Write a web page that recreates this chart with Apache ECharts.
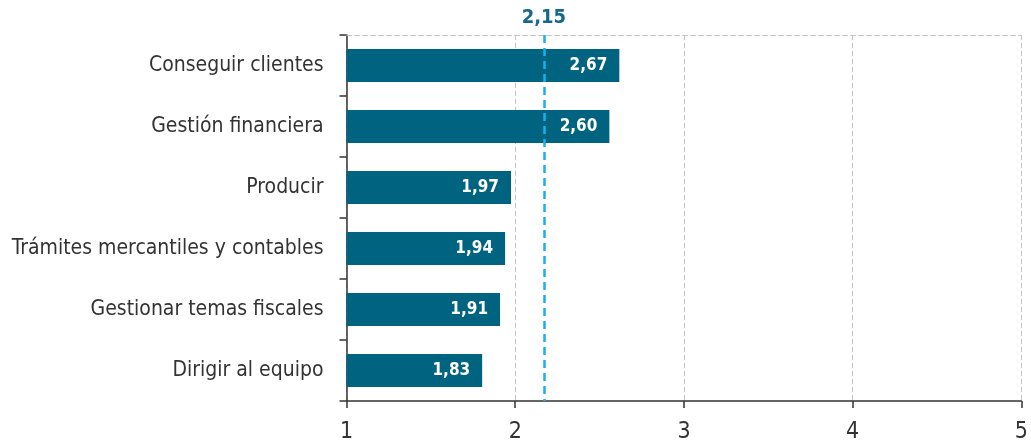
<!DOCTYPE html>
<html>
<head>
<meta charset="utf-8">
<script src="https://cdn.jsdelivr.net/npm/echarts@6/dist/echarts.min.js"></script>
<style>
html,body{margin:0;padding:0;background:#fff;}
#c{width:1031px;height:444px;}
</style>
</head>
<body>
<div id="c"></div>
<script>
// Data
var categories = ['Conseguir clientes', 'Gestión financiera', 'Producir', 'Trámites mercantiles y contables', 'Gestionar temas fiscales', 'Dirigir al equipo'];
// bar lengths as drawn in the reference
var values = [2.617, 2.558, 1.975, 1.94, 1.91, 1.804];
// printed value labels
var valueLabels = ['2,67', '2,60', '1,97', '1,94', '1,91', '1,83'];
var averageValue = 2.173;
var averageLabel = '2,15';
var xTicks = [1, 2, 3, 4, 5];

var FONT = "'Liberation Sans Narrow', 'DejaVu Sans Condensed', 'Roboto', sans-serif";
var chart = echarts.init(document.getElementById('c'), null, {renderer: 'canvas'});
chart.setOption({
  animation: false,
  grid: {left: 346.5, right: 5.5, top: 35, bottom: 42, containLabel: false},
  xAxis: [{
    type: 'value', min: xTicks[0], max: xTicks[xTicks.length - 1], interval: 1,
    axisLine: {show: true, lineStyle: {color: '#333', width: 1.5}},
    axisTick: {show: true, length: 7, lineStyle: {color: '#333', width: 1.5}},
    axisLabel: {color: '#333', fontSize: 23, fontFamily: FONT, margin: 20},
    splitLine: {show: true, lineStyle: {color: '#c4c4c4', type: [5, 3], width: 1}}
  }, {
    type: 'value', position: 'top', min: xTicks[0], max: xTicks[xTicks.length - 1], interval: 1,
    axisLine: {show: true, lineStyle: {color: '#c4c4c4', type: [5, 3], width: 1}},
    axisTick: {show: false}, axisLabel: {show: false}, splitLine: {show: false}
  }],
  yAxis: {
    type: 'category', data: categories, inverse: true,
    axisLine: {show: true, lineStyle: {color: '#333', width: 1.5}},
    axisTick: {show: true, length: 7, lineStyle: {color: '#333', width: 1.5}},
    axisLabel: {color: '#333', fontSize: 21, fontFamily: FONT, margin: 23},
    splitLine: {show: false}
  },
  series: [{
    type: 'bar', data: values, barWidth: 33, xAxisIndex: 0,
    itemStyle: {color: '#00637f'},
    label: {
      show: true, position: 'insideRight', distance: 12,
      color: '#fff', fontWeight: 'bold', fontSize: 17, fontFamily: FONT,
      formatter: function (p) { return valueLabels[p.dataIndex]; }
    },
    markLine: {
      symbol: 'none', silent: true,
      lineStyle: {color: '#1ab0ea', type: [8, 5], width: 2.5},
      label: {
        show: true, position: 'start', formatter: averageLabel, distance: 7,
        color: '#17698b', fontWeight: 'bold', fontSize: 20, fontFamily: FONT
      },
      data: [{xAxis: averageValue}]
    }
  }]
});
</script>
</body>
</html>
